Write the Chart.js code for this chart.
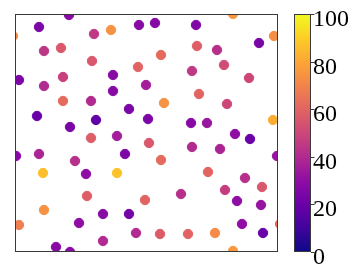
<!DOCTYPE html>
<html><head><meta charset="utf-8">
<script src="https://cdn.jsdelivr.net/npm/chart.js@4/dist/chart.umd.min.js"></script>
<style>html,body{margin:0;padding:0;background:#fff;overflow:hidden}#wrap{width:350px;height:267px}</style>
</head><body><div id="wrap"><canvas id="c" width="350" height="267"></canvas></div>
<script>
// x positions of the particles
const xValues=[5.4,2.4,-0.2,7.9,9.6,12.4,14.0,18.1,21.8,25.9,24.4,2.9,4.6,7.7,14.6,12.3,18.2,20.2,20.9,17.7,23.4,0.4,4.8,2.9,9.8,9.8,13.1,4.8,7.6,14.9,18.4,21.2,11.4,-0.5,-0.5,2.2,5.5,8.1,13.3,17.6,19.2,25.8,7.6,10.2,13.4,17.7,0.1,2.4,6.0,11.0,14.6,20.5,22.0,23.5,26.2,2.8,7.1,10.2,19.3,23.0,24.7,21.0,16.6,22.2,24.6,13.0,7.2,2.9,8.8,11.4,0.4,6.4,22.7,26.5,12.1,14.5,17.3,20.0,24.8,8.8,4.1,5.5,21.8];
// y positions of the particles
const yValues=[23.7,22.5,21.6,21.8,22.2,22.7,22.9,22.7,23.8,21.6,20.9,20.1,20.4,19.1,19.7,18.5,20.6,20.2,18.7,18.1,17.4,17.2,17.5,16.6,17.7,16.1,16.7,15.1,15.1,14.9,15.8,14.8,14.3,14.5,13.3,13.6,12.5,13.2,13.3,12.9,12.9,13.2,11.4,11.6,10.9,10.5,9.6,9.8,9.1,9.8,9.2,10.3,11.8,11.3,9.6,7.9,7.8,7.9,8.0,7.4,6.5,6.2,5.8,5.1,4.7,5.2,5.6,4.2,3.8,3.8,2.7,2.9,2.8,2.8,1.9,1.8,1.8,1.9,1.9,1.1,0.5,0.0,0.1];
// colour value (0-100) of each particle
const colorValues=[28,25,72,45,74,28,27,26,76,73,24,44,56,56,62,60,58,42,52,45,50,25,48,40,28,28,36,62,40,74,60,50,25,20,65,20,24,18,25,28,33,82,58,36,56,40,28,38,42,25,62,38,30,20,32,86,30,87,60,42,56,47,42,30,32,60,58,74,28,22,68,30,30,62,40,57,60,72,20,40,28,28,76];
// colorbar ticks
const colorbarTicks=[0,20,40,60,80,100];
const colorbarLabels=['0','20','40','60','80','100'];

const plasma=[[13,8,135],[65,4,157],[106,0,168],[143,13,164],[177,42,144],[204,71,120],[225,100,98],[242,132,75],[252,166,54],[252,206,37],[240,249,33]];
function plasmaColor(v){
  let t=Math.max(0,Math.min(1,v/100))*10;
  let i=Math.min(9,Math.floor(t)), f=t-i;
  const a=plasma[i],b=plasma[i+1];
  const c=a.map((x,k)=>Math.round(x+(b[k]-x)*f));
  return 'rgb('+c.join(',')+')';
}
const points=xValues.map((x,i)=>({x:x,y:yValues[i]}));
const colors=colorValues.map(plasmaColor);

const framePlugin={
  id:'frame',
  afterDraw(chart){
    const ctx=chart.ctx, a=chart.chartArea;
    ctx.save();
    ctx.strokeStyle='#3a3a3a';ctx.lineWidth=1;
    ctx.strokeRect(a.left+0.5,a.top+0.5,a.right-a.left-1,a.bottom-a.top-1);
    // colorbar
    const cb=chart.scales.cb;
    const x0=294,x1=311;
    const yTop=cb.getPixelForValue(100), yBot=cb.getPixelForValue(0);
    const g=ctx.createLinearGradient(0,yBot,0,yTop);
    plasma.forEach((c,i)=>g.addColorStop(i/10,'rgb('+c.join(',')+')'));
    ctx.fillStyle=g;
    ctx.fillRect(x0,yTop,x1-x0,yBot-yTop);
    ctx.strokeRect(x0+0.5,yTop+0.5,x1-x0-1,yBot-yTop-1);
    ctx.font='24px "Liberation Serif", serif';
    ctx.fillStyle='#000';ctx.textAlign='left';ctx.textBaseline='middle';
    colorbarTicks.forEach((v,i)=>{
      const y=Math.round(cb.getPixelForValue(v))+0.5;
      ctx.beginPath();ctx.moveTo(x1,y);ctx.lineTo(x1+3.5,y);ctx.stroke();
      ctx.fillText(colorbarLabels[i],x1+2,y+5);
    });
    ctx.restore();
  }
};

new Chart(document.getElementById('c'),{
  type:'scatter',
  data:{datasets:[{data:points,backgroundColor:colors,borderColor:colors,borderWidth:1,pointRadius:4.7,pointHoverRadius:4.7,clip:0}]},
  options:{
    responsive:false,animation:false,devicePixelRatio:1,
    layout:{padding:{left:15,top:14,right:72,bottom:15}},
    plugins:{legend:{display:false},tooltip:{enabled:false}},
    scales:{
      x:{type:'linear',min:0,max:26.3,display:false},
      y:{type:'linear',min:0,max:23.8,display:false},
      cb:{type:'linear',axis:'y',position:'right',min:0,max:100,display:false}
    }
  },
  plugins:[framePlugin]
});
</script>
</body></html>
